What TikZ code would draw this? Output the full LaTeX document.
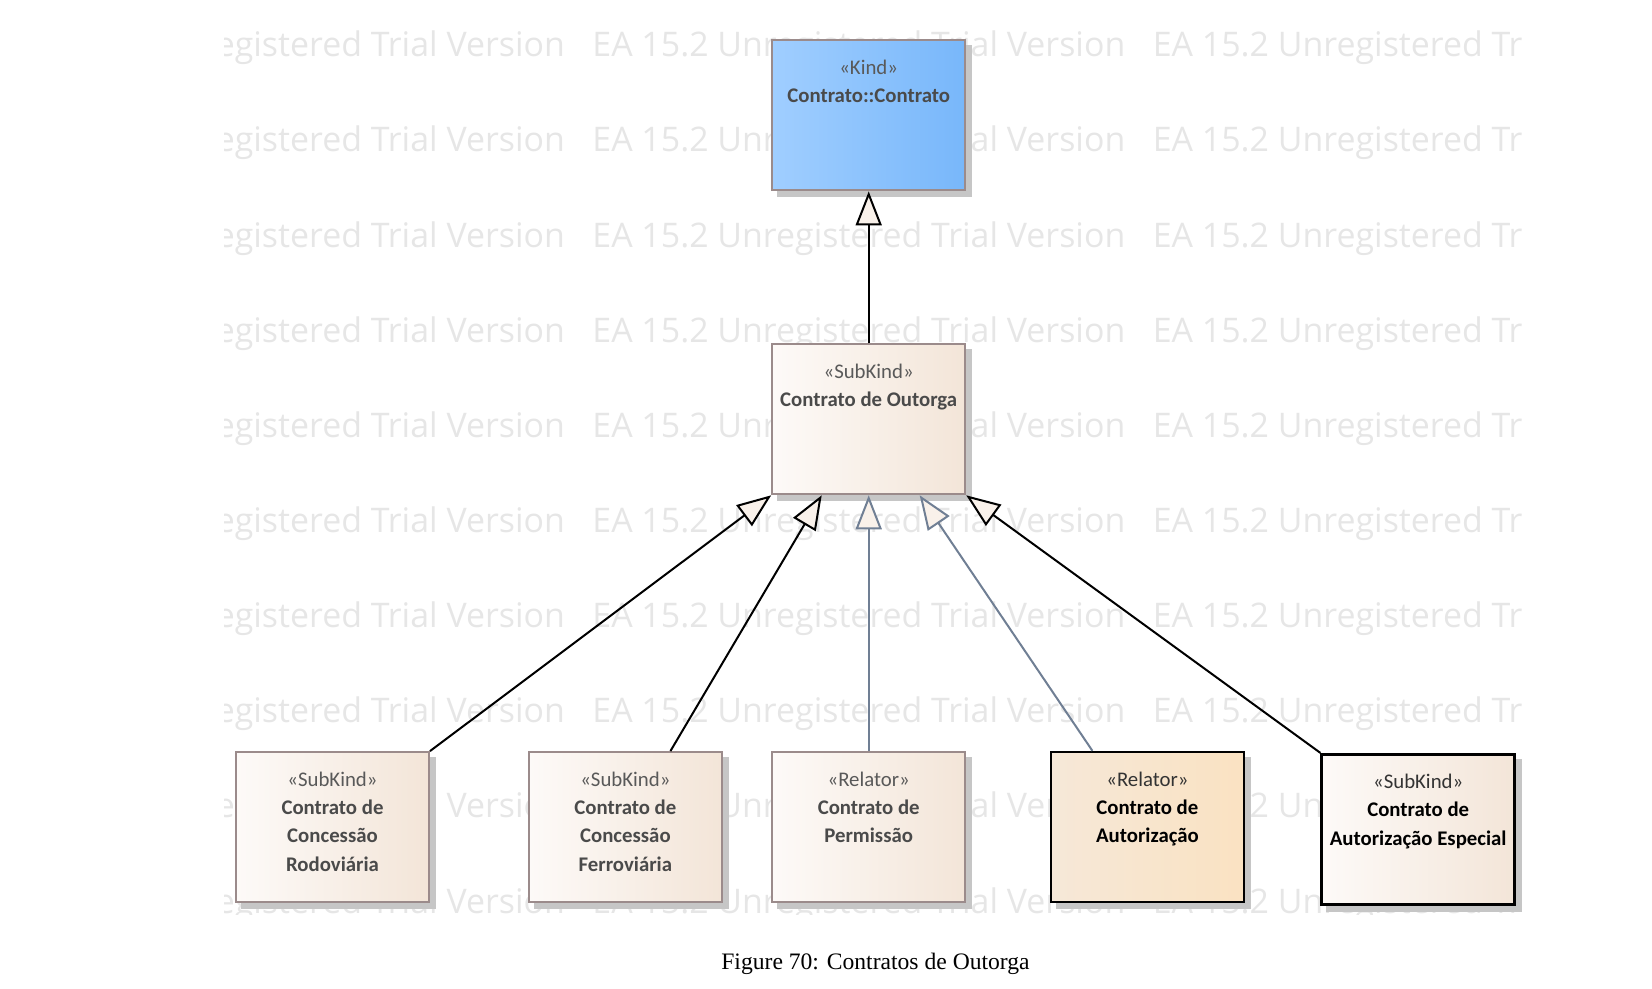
\documentclass[tikz,border=0pt]{standalone}
\usepackage{fontspec}
\setmainfont{Liberation Serif}
\newfontfamily\umlfont{Carlito}
\newfontfamily\wmfont{Open Sans}
\usetikzlibrary{arrows.meta,backgrounds}
\definecolor{clsborder}{HTML}{9B8B8B}
\definecolor{beigeL}{HTML}{FDFAF8}
\definecolor{beigeR}{HTML}{F3E5D8}
\definecolor{blueL}{HTML}{A0CEFF}
\definecolor{blueR}{HTML}{78B7FA}
\definecolor{autL}{HTML}{F6E8D8}
\definecolor{autR}{HTML}{FAE2C2}
\definecolor{sttext}{HTML}{595959}
\definecolor{nmtext}{HTML}{4A4A4A}
\definecolor{realcol}{HTML}{707F94}
\definecolor{tipfill}{HTML}{F9F1EA}
\definecolor{wmgray}{HTML}{E6E6E6}
\definecolor{shadowgray}{HTML}{C6C6C6}
\newcommand{\clstext}[2]{\begin{tabular}[t]{@{}c@{}}#1\\#2\end{tabular}}
\begin{document}
\begin{tikzpicture}[x=1pt,y=-1pt,
    cls/.style={draw=clsborder, line width=2pt, left color=beigeL, right color=beigeR,
      minimum width=193pt, minimum height=150pt, inner xsep=2pt, inner ysep=0pt,
      text height=34pt, text depth=116pt,
      font=\umlfont\fontsize{20.8}{28.4}\selectfont, text=nmtext},
    strong/.style={draw=black, line width=2.6pt, text=black},
    gen/.style={line width=2pt, -{Triangle[length=34pt,width=26pt,fill=tipfill]}},
    wm/.style={font=\wmfont\fontsize{33.9}{40}\selectfont, text=wmgray, inner sep=0pt, anchor=base west}]
  \useasboundingbox (0,0) rectangle (1652,988);

  \node[cls, left color=blueL, right color=blueR] (ctr) at (868.7,115.4)
    {\clstext{\color{sttext}«Kind»}{\textbf{Contrato::Contrato}}};
  \node[cls] (outorga) at (868.7,419.3)
    {\clstext{\color{sttext}«SubKind»}{\textbf{Contrato de Outorga}}};
  \node[cls] (rodov) at (332.5,827.1)
    {\clstext{\color{sttext}«SubKind»}{\textbf{Contrato de}\\\textbf{Concessão}\\\textbf{Rodoviária}}};
  \node[cls] (ferrov) at (625.4,827.1)
    {\clstext{\color{sttext}«SubKind»}{\textbf{Contrato de}\\\textbf{Concessão}\\\textbf{Ferroviária}}};
  \node[cls] (permis) at (868.7,827.1)
    {\clstext{\color{sttext}«Relator»}{\textbf{Contrato de}\\\textbf{Permissão}}};
  \node[cls, strong, left color=autL, right color=autR] (autoriz) at (1147.4,827.1)
    {\clstext{\color{black!80}«Relator»}{\textbf{Contrato de}\\\textbf{Autorização}}};
  \node[cls, strong] (especial) at (1418.2,829.2)
    {\clstext{\color{black!80}«SubKind»}{\textbf{Contrato de}\\\textbf{Autorização Especial}}};

  \draw[gen] (outorga.north) -- (ctr.south);
  \draw[gen] (rodov.north east) -- (outorga.south west);
  \draw[gen] ([xshift=45pt]ferrov.north) -- ([xshift=-47pt]outorga.south);
  \draw[gen, draw=realcol] (permis.north) -- (outorga.south);
  \draw[gen, draw=realcol] ([xshift=-55pt]autoriz.north) -- ([xshift=51pt]outorga.south);
  \draw[gen] (especial.north west) -- (outorga.south east);

  \node[anchor=base, font=\fontsize{23.6}{28}\selectfont] (caption) at (875.5,969)
    {Figure 70: Contratos de Outorga};

  \begin{scope}[on background layer]
    \begin{scope}
      \clip (224.4,0) rectangle (1522.4,914);
      \foreach \row in {0,...,9}
        \foreach \col in {0,1,2}
          \node[wm] (wm-\row-\col) at (31.8+560.4*\col,56.7+95.15*\row)
            {EA 15.2 Unregistered Trial Version};
    \end{scope}
    \foreach \n in {ctr,outorga,rodov,ferrov,permis,autoriz,especial}
      \fill[shadowgray] ([shift={(6pt,-6pt)}]\n.south west) rectangle ([shift={(6pt,-6pt)}]\n.north east);
  \end{scope}
\end{tikzpicture}
\end{document}
